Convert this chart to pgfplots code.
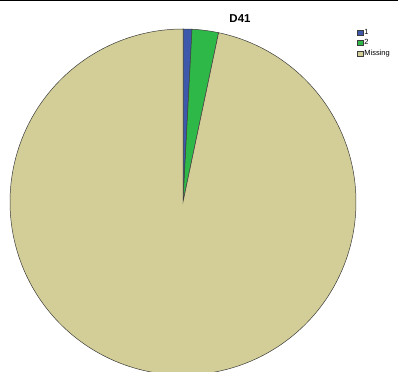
\documentclass[border=0pt]{standalone}
\usepackage{pgfplots}
\pgfplotsset{compat=1.18}
\usepackage{pgfplotstable}
\usepackage{fontspec}
\setmainfont{Liberation Sans}
\definecolor{cA}{RGB}{62,88,172}
\definecolor{cB}{RGB}{46,184,72}
\definecolor{cC}{RGB}{211,206,151}
\definecolor{edge}{RGB}{60,60,60}
\pgfplotstableread{
label pct
1 0.83
2 2.47
Missing 96.70
}\piedata
\pgfplotstablegetelem{0}{pct}\of\piedata \let\pA\pgfplotsretval
\pgfplotstablegetelem{1}{pct}\of\piedata \let\pB\pgfplotsretval
\pgfplotstablegetelem{2}{pct}\of\piedata \let\pC\pgfplotsretval
\pgfmathsetmacro\aA{3.6*\pA}
\pgfmathsetmacro\aB{\aA+3.6*\pB}
\pgfmathsetmacro\aC{\aB+3.6*\pC}
\begin{document}
\begin{tikzpicture}
\begin{axis}[
  width=398bp, height=372bp, scale only axis,
  xmin=0, xmax=398, ymin=0, ymax=372,
  hide axis,
  legend style={at={(axis cs:357,344)}, anchor=north west, draw=none, fill=none,
    font=\fontsize{7.5}{8}\selectfont, row sep=2.2bp, inner sep=0pt,
    nodes={inner sep=0.8bp}},
  legend cell align=left,
  legend image code/.code={\draw[#1,line width=0.4pt] (0bp,-2.6bp) rectangle (6bp,2.6bp);},
]
\addplot[fill=cA, draw=edge, line width=0.5pt, domain=0:\aA, samples=10, variable=\t]
  ({183+173*sin(\t)}, {170+173*cos(\t)}) -- (axis cs:183,170) -- cycle;
\addlegendentry{1}
\addplot[fill=cB, draw=edge, line width=0.5pt, domain=\aA:\aB, samples=20, variable=\t]
  ({183+173*sin(\t)}, {170+173*cos(\t)}) -- (axis cs:183,170) -- cycle;
\addlegendentry{2}
\addplot[fill=cC, draw=edge, line width=0.5pt, domain=\aB:\aC, samples=300, variable=\t]
  ({183+173*sin(\t)}, {170+173*cos(\t)}) -- (axis cs:183,170) -- cycle;
\addlegendentry{Missing}
\node[font=\fontsize{11.5}{12}\bfseries\selectfont] at (axis cs:240,353) {D41};
\draw[black, line width=1.2bp] (axis cs:0,371.4) -- (axis cs:398,371.4);
\end{axis}
\end{tikzpicture}
\end{document}
